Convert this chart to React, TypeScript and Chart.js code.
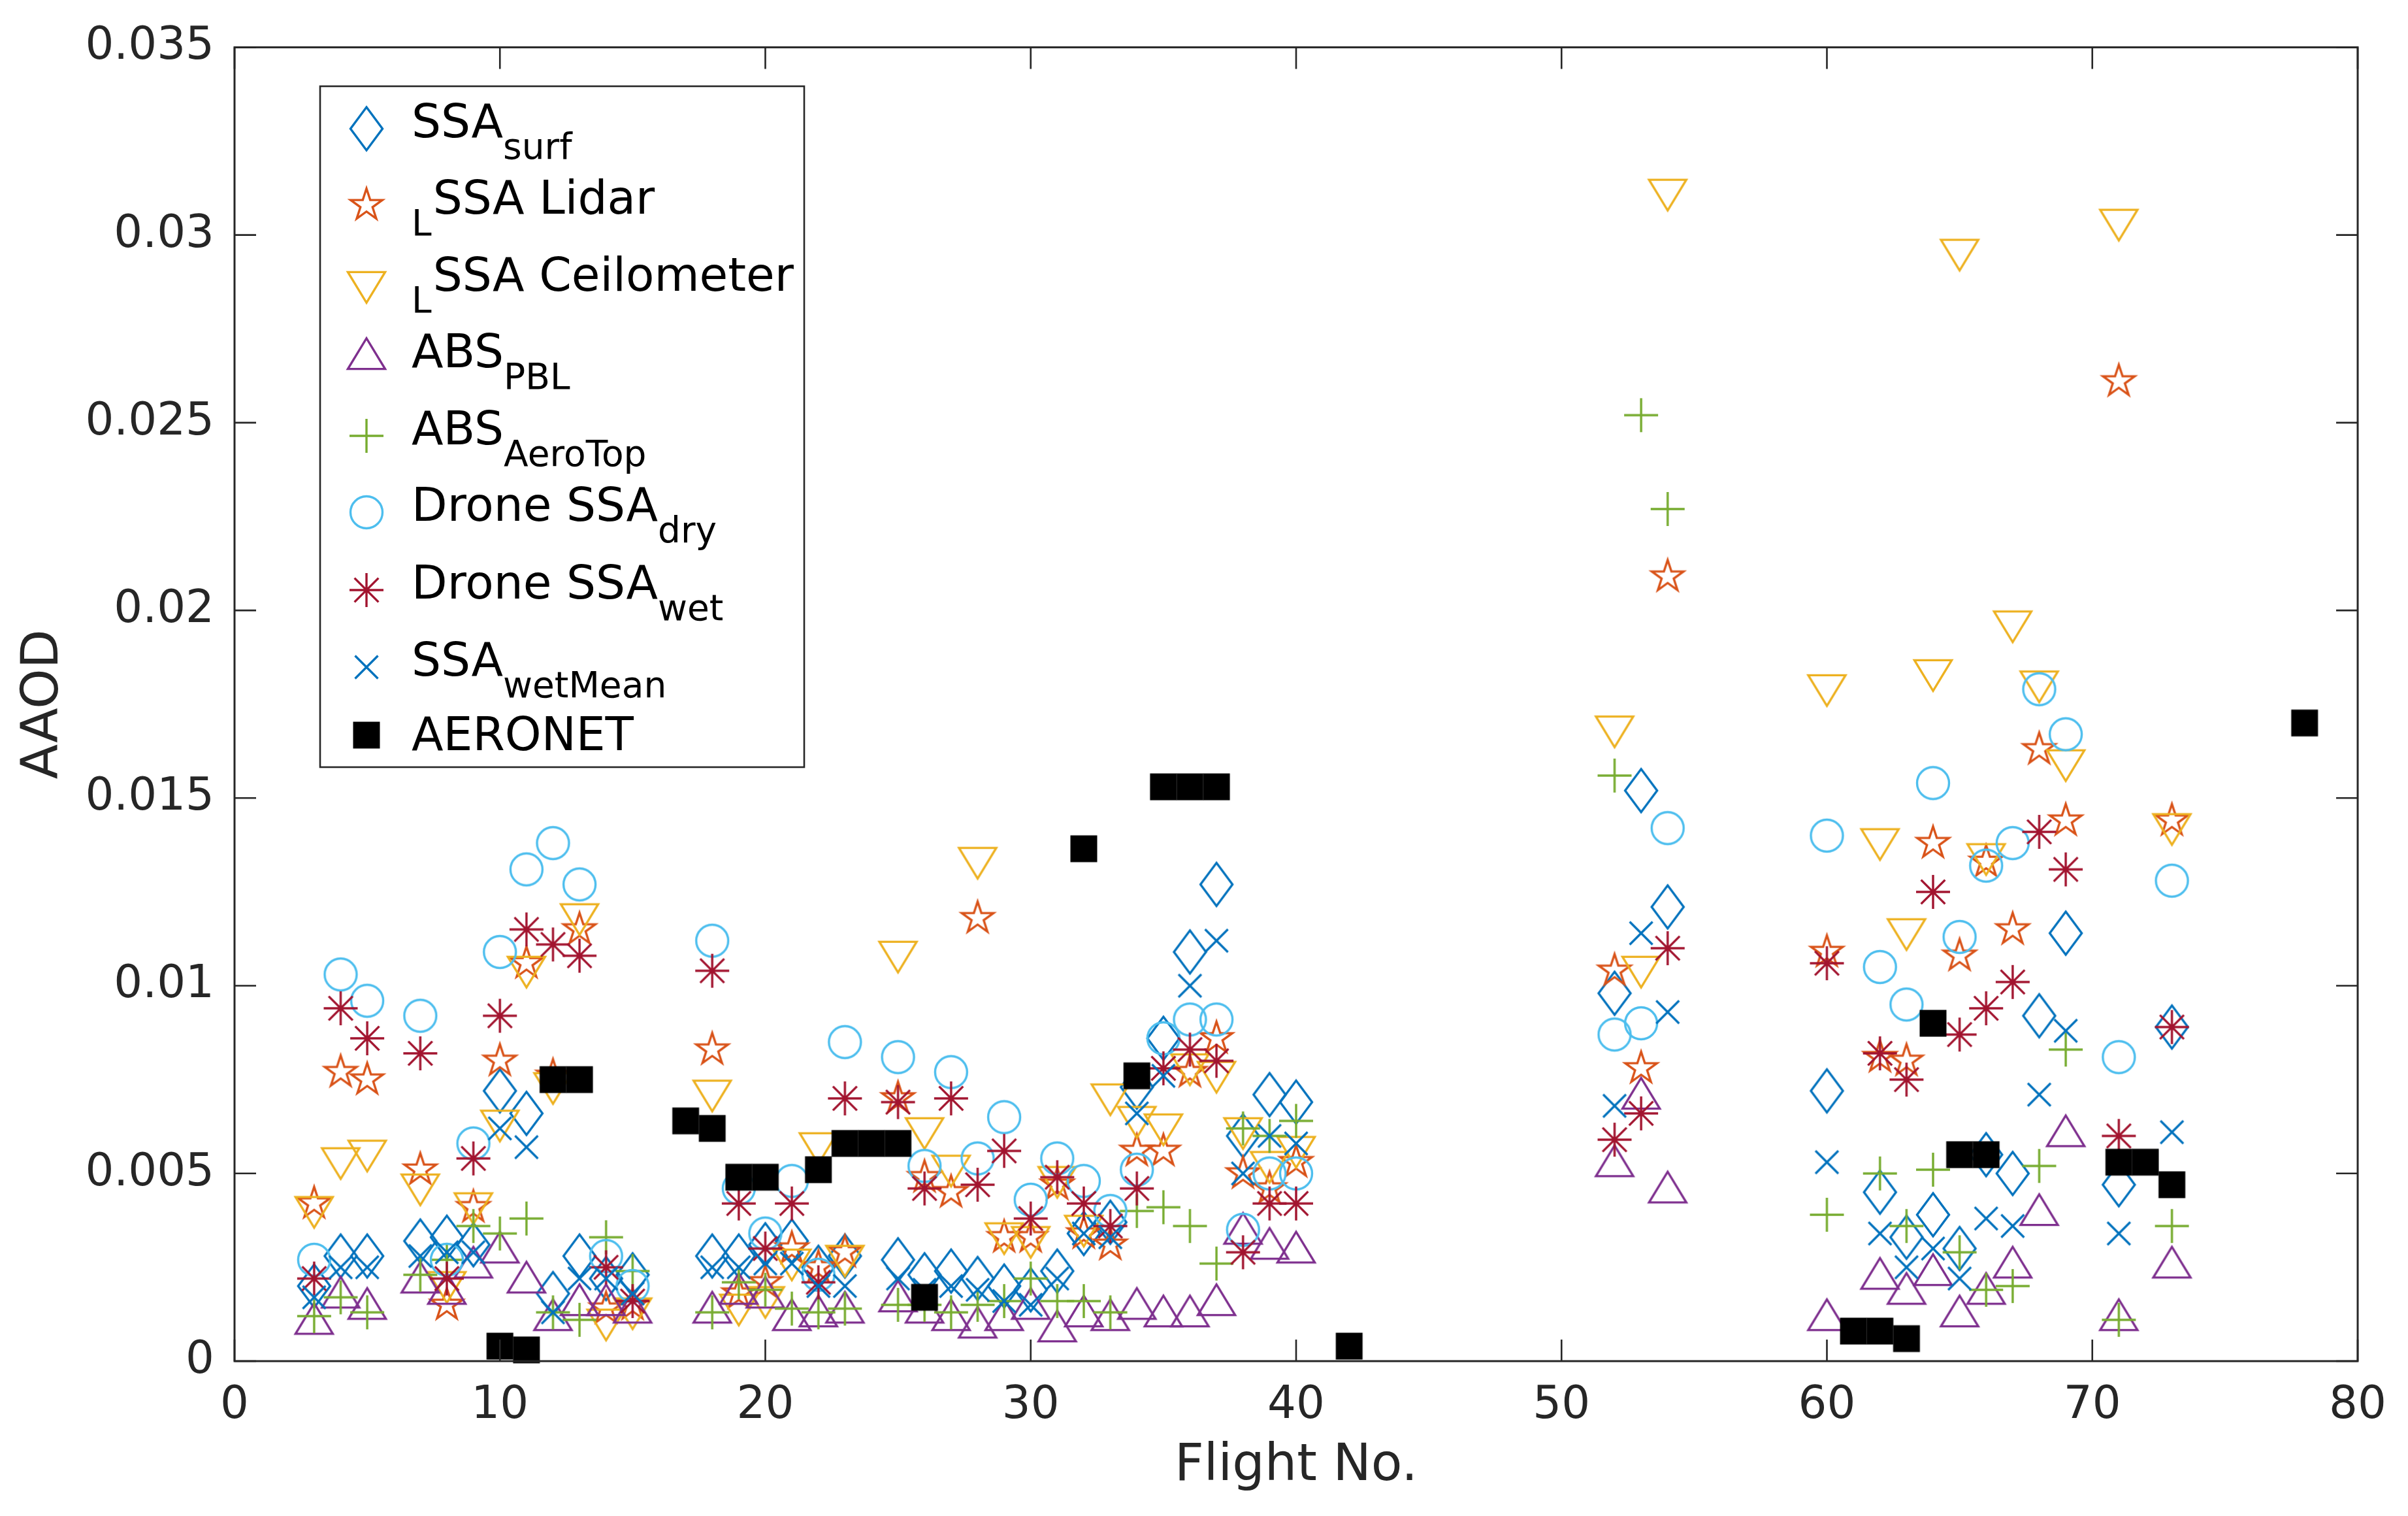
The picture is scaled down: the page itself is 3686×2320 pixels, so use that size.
import React, { useEffect, useRef } from 'react';
import { Chart, registerables } from 'chart.js';

Chart.register(...registerables);

// flights that carry the eight SSA / ABS / drone series
const flights = [
  3, 4, 5, 7, 8, 9, 10, 11, 12, 13, 14, 15,
  18, 19, 20, 21, 22, 23,
  25, 26, 27, 28, 29, 30, 31, 32, 33, 34, 35, 36, 37, 38, 39, 40,
  52, 53, 54,
  60,
  62, 63, 64, 65, 66, 67, 68, 69,
  71, 73,
];

const ssaSurf = [
  0.0020, 0.0028, 0.0028, 0.0032, 0.0033, 0.0031, 0.0072, 0.0066, 0.0018, 0.0028, 0.0022, 0.0023,
  0.0028, 0.0028, 0.0031, 0.0032, 0.0025, 0.0028,
  0.0027, 0.0023, 0.0024, 0.0022, 0.0020, 0.0019, 0.0024, 0.0034, 0.0037, 0.0073, 0.0086, 0.0109, 0.0127, 0.0060, 0.0071, 0.0069,
  0.0098, 0.0152, 0.0121,
  0.0072,
  0.0045, 0.0033, 0.0039, 0.0030, 0.0055, 0.0050, 0.0092, 0.0114,
  0.0047, 0.0089,
];

const ssaLidar = [
  0.0042, 0.0077, 0.0075, 0.0051, 0.0015, 0.0041, 0.0080, 0.0106, 0.0076, 0.0115, 0.0014, 0.0015,
  0.0083, 0.0018, 0.0021, 0.0030, 0.0025, 0.0029,
  0.0070, 0.0049, 0.0045, 0.0118, 0.0033, 0.0033, 0.0047, 0.0034, 0.0031, 0.0056, 0.0056, 0.0077, 0.0086, 0.0050, 0.0046, 0.0053,
  0.0104, 0.0078, 0.0209,
  0.0109,
  0.0081, 0.0080, 0.0138, 0.0108, 0.0133, 0.0115, 0.0163, 0.0144,
  0.0261, 0.0144,
];

const ssaCeilometer = [
  0.0041, 0.0054, 0.0056, 0.0047, 0.0021, 0.0042, 0.0064, 0.0105, 0.0074, 0.0119, 0.0011, 0.0014,
  0.0072, 0.0015, 0.0017, 0.0027, 0.0058, 0.0028,
  0.0109, 0.0062, 0.0052, 0.0134, 0.0034, 0.0033, 0.0049, 0.0036, 0.0071, 0.0065, 0.0063, 0.0079, 0.0077, 0.0062, 0.0053, 0.0057,
  0.0169, 0.0105, 0.0312,
  0.0180,
  0.0139, 0.0115, 0.0184, 0.0296, 0.0135, 0.0197, 0.0181, 0.0160,
  0.0304, 0.0143,
];

const absPbl = [
  0.0010, 0.0017, 0.0014, 0.0021, 0.0018, 0.0025, 0.0029, 0.0021, 0.0011, 0.0015, 0.0015, 0.0013,
  0.0013, 0.0018, 0.0017, 0.0011, 0.0012, 0.0013,
  0.0016, 0.0013, 0.0011, 0.0009, 0.0011, 0.0014, 0.0008, 0.0012, 0.0011, 0.0014, 0.0012, 0.0012, 0.0015, 0.0034, 0.0030, 0.0029,
  0.0052, 0.0070, 0.0045,
  0.0011,
  0.0022, 0.0018, 0.0023, 0.0012, 0.0018, 0.0025, 0.0039, 0.0060,
  0.0011, 0.0025,
];

const absAeroTop = [
  0.0012, 0.0017, 0.0013, 0.0023, 0.0027, 0.0036, 0.0034, 0.0038, 0.0013, 0.0011, 0.0033, 0.0024,
  0.0013, 0.0021, 0.0019, 0.0014, 0.0013, 0.0014,
  0.0015, 0.0015, 0.0013, 0.0015, 0.0016, 0.0022, 0.0016, 0.0016, 0.0013, 0.0040, 0.0041, 0.0036, 0.0026, 0.0062, 0.0060, 0.0064,
  0.0156, 0.0252, 0.0227,
  0.0039,
  0.0050, 0.0036, 0.0051, 0.0029, 0.0019, 0.0020, 0.0052, 0.0083,
  0.0011, 0.0036,
];

const droneDry = [
  0.0027, 0.0103, 0.0096, 0.0092, 0.0027, 0.0058, 0.0109, 0.0131, 0.0138, 0.0127, 0.0028, 0.0020,
  0.0112, 0.0046, 0.0034, 0.0048, 0.0023, 0.0085,
  0.0081, 0.0052, 0.0077, 0.0054, 0.0065, 0.0043, 0.0054, 0.0048, 0.0040, 0.0051, 0.0086, 0.0091, 0.0091, 0.0035, 0.0050, 0.0050,
  0.0087, 0.0090, 0.0142,
  0.0140,
  0.0105, 0.0095, 0.0154, 0.0113, 0.0132, 0.0138, 0.0179, 0.0167,
  0.0081, 0.0128,
];

const droneWet = [
  0.0022, 0.0094, 0.0086, 0.0082, 0.0022, 0.0054, 0.0092, 0.0115, 0.0111, 0.0108, 0.0025, 0.0016,
  0.0104, 0.0042, 0.0030, 0.0042, 0.0021, 0.0070,
  0.0069, 0.0046, 0.0070, 0.0047, 0.0056, 0.0038, 0.0049, 0.0042, 0.0036, 0.0046, 0.0078, 0.0083, 0.0080, 0.0029, 0.0042, 0.0042,
  0.0059, 0.0066, 0.0110,
  0.0106,
  0.0082, 0.0075, 0.0125, 0.0087, 0.0094, 0.0101, 0.0141, 0.0131,
  0.0060, 0.0089,
];

const ssaWetMean = [
  0.0017, 0.0025, 0.0025, 0.0028, 0.0029, 0.0029, 0.0062, 0.0057, 0.0013, 0.0022, 0.0022, 0.0018,
  0.0025, 0.0025, 0.0026, 0.0026, 0.0020, 0.0020,
  0.0022, 0.0019, 0.0020, 0.0019, 0.0016, 0.0015, 0.0022, 0.0034, 0.0033, 0.0066, 0.0076, 0.0100, 0.0112, 0.0050, 0.0060, 0.0058,
  0.0068, 0.0114, 0.0093,
  0.0053,
  0.0034, 0.0025, 0.0030, 0.0022, 0.0038, 0.0036, 0.0071, 0.0088,
  0.0034, 0.0061,
];

const aeronetFlights = [10, 11, 12, 13, 17, 18, 19, 20, 22, 23, 24, 25, 26, 32, 34, 35, 36, 37, 42, 61, 62, 63, 64, 65, 66, 71, 72, 73, 78];
const aeronetAAOD = [
  0.0004, 0.0003, 0.0075, 0.0075, 0.0064, 0.0062, 0.0049, 0.0049, 0.0051, 0.0058, 0.0058, 0.0058, 0.0017,
  0.01365, 0.0076, 0.0153, 0.0153, 0.0153, 0.0004,
  0.0008, 0.0008, 0.0006, 0.0090, 0.0055, 0.0055, 0.0053, 0.0053, 0.0047, 0.0170,
];

const xTicks = [0, 10, 20, 30, 40, 50, 60, 70, 80];
const yTicks = [0, 0.005, 0.01, 0.015, 0.02, 0.025, 0.03, 0.035];

const AXIS = '#262626';
const FONT = 'DejaVu Sans';

// marker drawn on its own canvas so it can be used as a pointStyle
function makeMarker(kind: string, color: string): HTMLCanvasElement {
  const S = 84;
  const c = document.createElement('canvas');
  c.width = S;
  c.height = S;
  const g = c.getContext('2d')!;
  const cx = S / 2;
  const cy = S / 2;
  g.strokeStyle = color;
  g.fillStyle = color;
  g.lineWidth = 3.4;
  g.lineJoin = 'miter';
  g.miterLimit = 4;
  g.beginPath();
  if (kind === 'diamond') {
    g.moveTo(cx, cy - 33);
    g.lineTo(cx + 24.5, cy);
    g.lineTo(cx, cy + 33);
    g.lineTo(cx - 24.5, cy);
    g.closePath();
    g.stroke();
  } else if (kind === 'pentagram') {
    const R = 25.5;
    for (let k = 0; k < 10; k++) {
      const a = -Math.PI / 2 + (k * Math.PI) / 5;
      const r = k % 2 === 0 ? R : R * 0.382;
      const px = cx + r * Math.cos(a);
      const py = cy + r * Math.sin(a);
      if (k === 0) g.moveTo(px, py);
      else g.lineTo(px, py);
    }
    g.closePath();
    g.stroke();
  } else if (kind === 'triDown') {
    const w = 57;
    const h = 47;
    g.moveTo(cx - w / 2, cy - h / 3);
    g.lineTo(cx + w / 2, cy - h / 3);
    g.lineTo(cx, cy + (2 * h) / 3);
    g.closePath();
    g.stroke();
  } else if (kind === 'triUp') {
    const w = 57;
    const h = 47;
    g.moveTo(cx - w / 2, cy + h / 3);
    g.lineTo(cx + w / 2, cy + h / 3);
    g.lineTo(cx, cy - (2 * h) / 3);
    g.closePath();
    g.stroke();
  } else if (kind === 'plus') {
    g.moveTo(cx - 26, cy);
    g.lineTo(cx + 26, cy);
    g.moveTo(cx, cy - 26);
    g.lineTo(cx, cy + 26);
    g.stroke();
  } else if (kind === 'circle') {
    g.arc(cx, cy, 24.5, 0, Math.PI * 2);
    g.stroke();
  } else if (kind === 'asterisk') {
    const r = 26;
    for (let k = 0; k < 4; k++) {
      const a = (k * Math.PI) / 4;
      g.moveTo(cx - r * Math.cos(a), cy - r * Math.sin(a));
      g.lineTo(cx + r * Math.cos(a), cy + r * Math.sin(a));
    }
    g.stroke();
  } else if (kind === 'x') {
    const h = 17.5;
    g.moveTo(cx - h, cy - h);
    g.lineTo(cx + h, cy + h);
    g.moveTo(cx + h, cy - h);
    g.lineTo(cx - h, cy + h);
    g.stroke();
  } else if (kind === 'square') {
    g.fillRect(cx - 20.5, cy - 20.5, 41, 41);
  }
  return c;
}

type Part = { text: string; kind: 'main' | 'sub' | 'pre' };

const legendRows: { marker: string; color: string; parts: Part[] }[] = [
  { marker: 'diamond', color: '#0072BD', parts: [{ text: 'SSA', kind: 'main' }, { text: 'surf', kind: 'sub' }] },
  { marker: 'pentagram', color: '#D95319', parts: [{ text: 'L', kind: 'pre' }, { text: 'SSA Lidar', kind: 'main' }] },
  { marker: 'triDown', color: '#EDB120', parts: [{ text: 'L', kind: 'pre' }, { text: 'SSA Ceilometer', kind: 'main' }] },
  { marker: 'triUp', color: '#7E2F8E', parts: [{ text: 'ABS', kind: 'main' }, { text: 'PBL', kind: 'sub' }] },
  { marker: 'plus', color: '#77AC30', parts: [{ text: 'ABS', kind: 'main' }, { text: 'AeroTop', kind: 'sub' }] },
  { marker: 'circle', color: '#4DBEEE', parts: [{ text: 'Drone SSA', kind: 'main' }, { text: 'dry', kind: 'sub' }] },
  { marker: 'asterisk', color: '#A2142F', parts: [{ text: 'Drone SSA', kind: 'main' }, { text: 'wet', kind: 'sub' }] },
  { marker: 'x', color: '#0072BD', parts: [{ text: 'SSA', kind: 'main' }, { text: 'wetMean', kind: 'sub' }] },
  { marker: 'square', color: '#000000', parts: [{ text: 'AERONET', kind: 'main' }] },
];

const rowCenters = [197, 314, 432, 549, 667, 784, 903, 1021, 1125];

export default function App() {
  const canvasRef = useRef<HTMLCanvasElement>(null);
  const chartRef = useRef<Chart | null>(null);

  useEffect(() => {
    document.body.style.margin = '0';
    if (!canvasRef.current) return;
    const ctx = canvasRef.current.getContext('2d');
    if (!ctx) return;
    if (chartRef.current) chartRef.current.destroy();

    const markers = legendRows.map(r => makeMarker(r.marker, r.color));
    const series = [ssaSurf, ssaLidar, ssaCeilometer, absPbl, absAeroTop, droneDry, droneWet, ssaWetMean];
    const labels = ['SSA surf', 'L SSA Lidar', 'L SSA Ceilometer', 'ABS PBL', 'ABS AeroTop', 'Drone SSA dry', 'Drone SSA wet', 'SSA wetMean'];

    const datasets: any[] = series.map((vals, i) => ({
      label: labels[i],
      data: flights
        .map((f, j) => ({ x: f, y: vals[j] }))
        .filter(p => p.y !== null && p.y !== undefined),
      showLine: false,
      pointStyle: markers[i],
      pointRadius: 26,
      clip: false,
      order: 10 - i,
    }));
    datasets.push({
      label: 'AERONET',
      data: aeronetFlights.map((f, j) => ({ x: f, y: aeronetAAOD[j] })),
      showLine: false,
      pointStyle: markers[8],
      pointRadius: 21,
      clip: false,
      order: 0,
    });

    const frame = {
      id: 'matlabFrame',
      afterDatasetsDraw(chart: any) {
        const { ctx: c, chartArea: a, scales } = chart;
        c.save();
        c.strokeStyle = AXIS;
        c.lineWidth = 2.6;
        c.beginPath();
        const tl = 33;
        xTicks.forEach(v => {
          const px = scales.x.getPixelForValue(v);
          c.moveTo(px, a.bottom);
          c.lineTo(px, a.bottom - tl);
          c.moveTo(px, a.top);
          c.lineTo(px, a.top + tl);
        });
        yTicks.forEach(v => {
          const py = scales.y.getPixelForValue(v);
          c.moveTo(a.left, py);
          c.lineTo(a.left + tl, py);
          c.moveTo(a.right, py);
          c.lineTo(a.right - tl, py);
        });
        c.stroke();
        c.lineWidth = 3;
        c.strokeRect(a.left, a.top, a.right - a.left, a.bottom - a.top);
        c.restore();
      },
    };

    const legend = {
      id: 'matlabLegend',
      afterDraw(chart: any) {
        const c = chart.ctx;
        c.save();
        c.fillStyle = '#ffffff';
        c.fillRect(490, 132, 741, 1042);
        c.strokeStyle = AXIS;
        c.lineWidth = 2.6;
        c.strokeRect(490, 132, 741, 1042);
        legendRows.forEach((row, i) => {
          const cy = rowCenters[i];
          const m = markers[i];
          c.drawImage(m, 561 - m.width / 2, cy - m.height / 2);
          const hasSub = row.parts.length > 1;
          let x = 630;
          c.fillStyle = '#000000';
          c.textBaseline = 'alphabetic';
          c.textAlign = 'left';
          row.parts.forEach(p => {
            if (p.kind === 'main') {
              c.font = `71px "${FONT}"`;
              c.fillText(p.text, x, cy + (hasSub ? 13 : 23));
            } else {
              c.font = `55px "${FONT}"`;
              c.fillText(p.text, x, cy + 46);
            }
            x += c.measureText(p.text).width + (p.kind === 'pre' ? 2 : 0);
          });
        });
        c.restore();
      },
    };

    chartRef.current = new Chart(ctx, {
      type: 'scatter',
      data: { datasets },
      plugins: [frame, legend],
      options: {
        animation: false,
        responsive: false,
        events: [],
        layout: { padding: { left: 0, right: 77, top: 64, bottom: 0 } },
        plugins: {
          legend: { display: false },
          tooltip: { enabled: false },
        },
        scales: {
          x: {
            type: 'linear',
            min: 0,
            max: 80,
            afterFit: (s: any) => { s.height = 237; },
            afterBuildTicks: (s: any) => { s.ticks = xTicks.map(v => ({ value: v })); },
            grid: { display: false, drawTicks: false },
            border: { display: false },
            ticks: {
              color: AXIS,
              padding: 28,
              maxRotation: 0,
              font: { family: FONT, size: 69 },
              callback: (v: any) => String(v),
            },
            title: {
              display: true,
              text: 'Flight No.',
              color: AXIS,
              font: { family: FONT, size: 78 },
              padding: { top: 0, bottom: 28 },
            },
          },
          y: {
            type: 'linear',
            min: 0,
            max: 0.035,
            afterFit: (s: any) => { s.width = 359; },
            afterBuildTicks: (s: any) => { s.ticks = yTicks.map(v => ({ value: v })); },
            grid: { display: false, drawTicks: false },
            border: { display: false },
            ticks: {
              color: AXIS,
              padding: 31,
              font: { family: FONT, size: 69 },
              callback: (v: any) => (v === 0 ? '0' : String(parseFloat(Number(v).toFixed(3)))),
            },
            title: {
              display: true,
              text: 'AAOD',
              color: AXIS,
              font: { family: FONT, size: 78 },
              padding: { top: 21, bottom: 0 },
            },
          },
        },
      },
    });

    return () => {
      if (chartRef.current) {
        chartRef.current.destroy();
        chartRef.current = null;
      }
    };
  }, []);

  return (
    <div style={{ position: 'absolute', left: 0, top: 0, width: 3686, height: 2320, background: '#fff' }}>
      <canvas ref={canvasRef} width={3686} height={2320} style={{ display: 'block', width: 3686, height: 2320 }} />
    </div>
  );
}
